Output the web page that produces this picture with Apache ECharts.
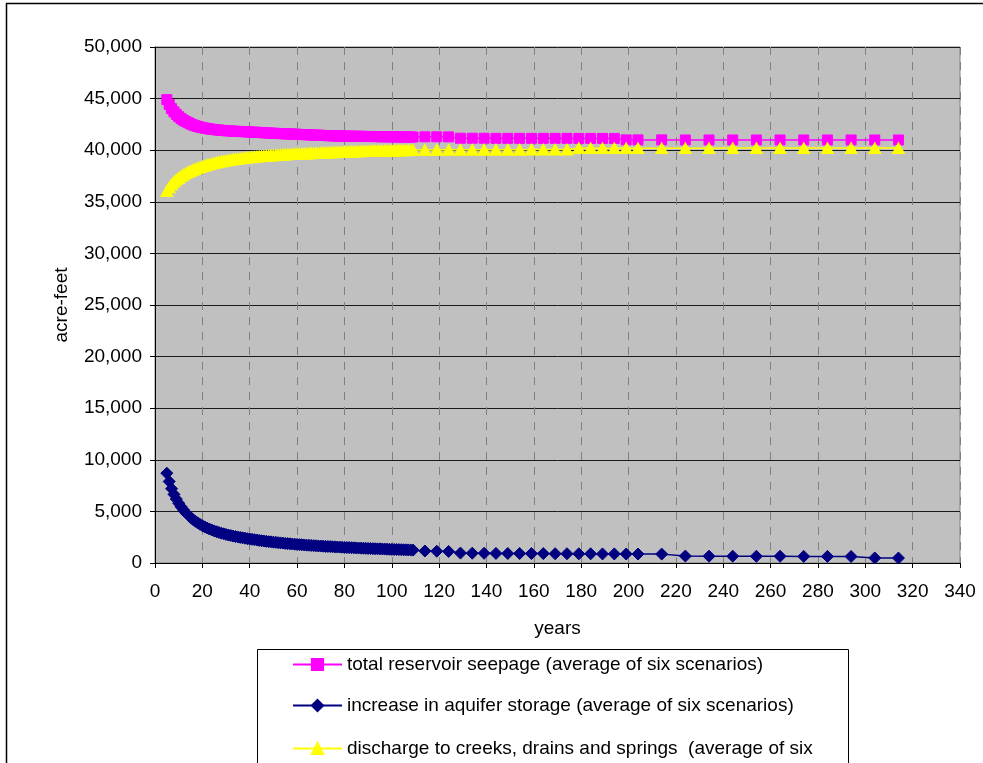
<!DOCTYPE html>
<html>
<head>
<meta charset="utf-8">
<script src="https://cdn.jsdelivr.net/npm/echarts@6/dist/echarts.min.js"></script>
<style>
html,body{margin:0;padding:0;background:#fff;}
#chart{width:983px;height:763px;}
</style>
</head>
<body>
<div id="chart"></div>
<script>
// years (x values)
const years = [
  5,6,7,8,9,10,11,12,13,14,15,16,17,18,19,20,21,22,23,24,25,26,27,28,29,30,
  31,32,33,34,35,36,37,38,39,40,41,42,43,44,45,46,47,48,49,50,
  51,52,53,54,55,56,57,58,59,60,61,62,63,64,65,66,67,68,69,70,
  71,72,73,74,75,76,77,78,79,80,81,82,83,84,85,86,87,88,89,90,
  91,92,93,94,95,96,97,98,99,100,101,102,103,104,105,106,107,108,109,
  114,119,124,129,134,139,144,149,154,159,164,169,174,179,184,189,194,199,204,
  214,224,234,244,254,264,274,284,294,304,314
];

const seepage = [
  44900,44420,44020,43720,43470,43250,43060,42910,42780,42660,42550,42450,42370,42300,42240,42190,
  42140,42100,42060,42030,42000,41970,41950,41930,41910,41890,
  41870,41860,41850,41830,41820,41810,41800,41790,41780,41760,
  41750,41740,41730,41720,41700,41690,41680,41660,41650,41640,
  41630,41620,41610,41600,41590,41580,41570,41560,41550,41540,
  41530,41520,41510,41500,41490,41480,41470,41460,41450,41440,
  41430,41420,41410,41400,41390,41390,41380,41380,41370,41370,
  41360,41360,41350,41350,41350,41340,41340,41340,41330,41330,
  41330,41320,41320,41320,41310,41310,41310,41300,41300,41300,
  41300,41290,41290,41290,41290,41280,41280,41280,41280,
  41300,41300,41290,41160,41160,41160,41150,41150,41150,41150,41150,41150,41150,41140,41140,41140,41140,41000,41000,
  41000,40990,40990,40990,40990,40990,40990,40990,40990,40990,40990
];

const storage = [
  8700,7900,7200,6650,6200,5800,5450,5150,4880,4640,4420,4220,4050,3890,3750,3620,
  3500,3390,3290,3200,3110,3030,2960,2890,2830,2770,
  2710,2660,2610,2560,2520,2480,2440,2400,2360,2320,
  2290,2260,2230,2190,2160,2130,2100,2070,2050,2020,
  2000,1970,1950,1930,1900,1880,1860,1840,1820,1800,
  1780,1770,1750,1730,1720,1700,1680,1670,1650,1640,
  1630,1610,1600,1590,1570,1560,1550,1540,1530,1510,
  1500,1490,1480,1470,1460,1450,1440,1430,1420,1410,
  1400,1390,1380,1370,1370,1360,1350,1340,1330,1320,
  1310,1310,1300,1290,1280,1280,1270,1260,1250,
  1160,1140,1120,960,950,940,930,920,920,910,910,900,900,890,890,880,880,870,870,
  860,670,660,660,650,650,640,640,630,490,480
];

const discharge = [
  36050,36400,36700,36950,37150,37330,37490,37640,37780,37900,38010,38110,38200,38290,38370,38450,
  38520,38590,38650,38710,38770,38820,38870,38920,38960,39000,
  39040,39080,39120,39150,39180,39210,39240,39270,39300,39320,
  39340,39370,39390,39410,39430,39450,39470,39480,39500,39520,
  39530,39550,39560,39580,39590,39600,39620,39630,39640,39650,
  39660,39670,39680,39690,39700,39710,39720,39730,39740,39750,
  39760,39770,39780,39790,39800,39810,39820,39830,39840,39850,
  39860,39870,39870,39880,39890,39900,39900,39910,39920,39920,
  39930,39940,39940,39950,39950,39960,39960,39970,39970,39980,
  39980,39990,39990,40000,40000,40000,40010,40010,40020,
  40030,40030,40040,40040,40040,40050,40050,40050,40050,40060,40060,40060,40060,40200,40200,40200,40200,40200,40200,
  40200,40200,40200,40210,40210,40210,40210,40210,40210,40210,40210
];

const seriesNames = [
  'total reservoir seepage (average of six scenarios)',
  'increase in aquifer storage (average of six scenarios)',
  'discharge to creeks, drains and springs  (average of six'
];
const xTicks = {min: 0, max: 340, interval: 20};
const yTicks = {min: 0, max: 50000, interval: 5000};

const FONT = "'Liberation Sans', Arial, sans-serif";
const pair = (vals) => years.map((x, i) => [x, vals[i]]);

const chart = echarts.init(document.getElementById('chart'), null, {renderer: 'canvas'});

function legendFor(i, top) {
  return {
    data: [seriesNames[i]],
    left: 292,
    top: top,
    orient: 'horizontal',
    itemWidth: 49,
    itemHeight: 14,
    padding: 0,
    selectedMode: false,
    textStyle: {fontFamily: FONT, fontSize: 19, color: '#000'}
  };
}

chart.setOption({
  animation: false,
  backgroundColor: '#fff',
  textStyle: {fontFamily: FONT},
  graphic: [
    {type: 'rect', shape: {x: 6.5, y: 3.5, width: 980, height: 800}, style: {fill: 'none', stroke: '#000', lineWidth: 1.5}, z: -1},
    {type: 'rect', shape: {x: 257.5, y: 649.5, width: 591, height: 200}, style: {fill: '#fff', stroke: '#000', lineWidth: 1}, z: 0}
  ],
  legend: [legendFor(0, 655), legendFor(1, 696), legendFor(2, 739)],
  grid: {
    left: 155, top: 47, right: 23, bottom: 200,
    show: true, backgroundColor: '#C0C0C0', borderColor: '#808080', borderWidth: 1
  },
  xAxis: {
    type: 'value',
    min: xTicks.min, max: xTicks.max, interval: xTicks.interval,
    name: 'years', nameLocation: 'middle', nameGap: 56,
    nameTextStyle: {fontFamily: FONT, fontSize: 19, color: '#000'},
    axisLine: {show: true, onZero: false, lineStyle: {color: '#000', width: 1}},
    axisTick: {show: true, inside: false, length: 5, lineStyle: {color: '#000'}},
    axisLabel: {fontFamily: FONT, fontSize: 19, color: '#000', margin: 19},
    splitLine: {show: true, lineStyle: {color: '#808080', width: 1, type: [8, 7]}}
  },
  yAxis: {
    type: 'value',
    min: yTicks.min, max: yTicks.max, interval: yTicks.interval,
    name: 'acre-feet', nameLocation: 'middle', nameGap: 84,
    nameTextStyle: {fontFamily: FONT, fontSize: 19, color: '#000'},
    axisLine: {show: true, lineStyle: {color: '#000', width: 1}},
    axisTick: {show: true, inside: false, length: 5, lineStyle: {color: '#000'}},
    axisLabel: {
      fontFamily: FONT, fontSize: 19, color: '#000', margin: 13,
      formatter: (v) => v.toLocaleString('en-US')
    },
    splitLine: {show: true, lineStyle: {color: '#1a1a1a', width: 1}}
  },
  series: [
    {
      name: seriesNames[0], type: 'line', data: pair(seepage),
      symbol: 'rect', symbolSize: 10, showAllSymbol: true,
      itemStyle: {color: '#FF00FF', borderColor: '#FF00FF', borderWidth: 1},
      lineStyle: {color: '#FF00FF', width: 1.5},
      z: 2
    },
    {
      name: seriesNames[1], type: 'line', data: pair(storage),
      symbol: 'diamond', symbolSize: 12, showAllSymbol: true,
      itemStyle: {color: '#000080', borderColor: '#000080', borderWidth: 1},
      lineStyle: {color: '#000080', width: 1.5},
      z: 3
    },
    {
      name: seriesNames[2], type: 'line', data: pair(discharge),
      symbol: 'triangle', symbolSize: [12, 11], showAllSymbol: true,
      itemStyle: {color: '#FFFF00', borderColor: '#FFFF00', borderWidth: 1},
      lineStyle: {color: '#FFFF00', width: 1.5},
      z: 4
    }
  ]
});
</script>
</body>
</html>
